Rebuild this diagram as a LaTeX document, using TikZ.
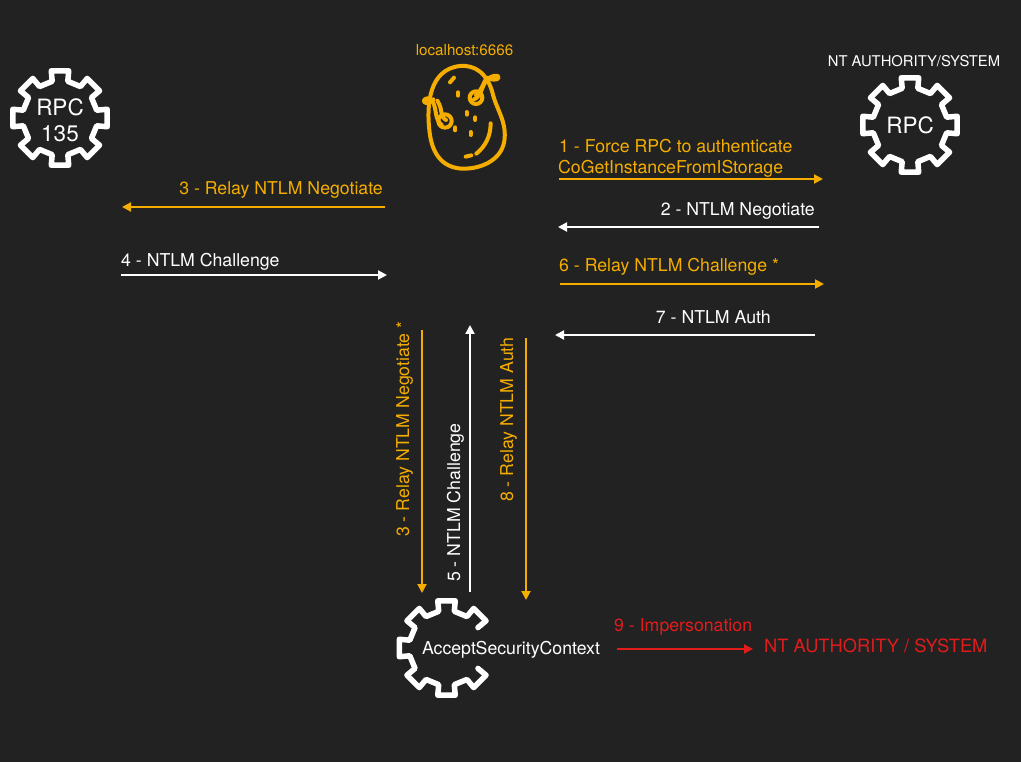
\documentclass[tikz,border=0pt]{standalone}
\usepackage{fontspec}
\setmainfont{TeX Gyre Heros}
\usetikzlibrary{arrows.meta}
\definecolor{bgc}{HTML}{222222}
\definecolor{orc}{HTML}{F5AE00}
\definecolor{rdc}{HTML}{E21B1B}
\tikzset{
  x=1pt,y=-1pt,
  lab/.style={inner sep=0pt,font=\fontsize{17.7}{20}\selectfont},
  olab/.style={lab,text=orc},
  wlab/.style={lab,text=white},
  rlab/.style={lab,text=rdc},
  biglab/.style={font=\fontsize{22.5}{26}\selectfont},
  toplab/.style={font=\fontsize{14.8}{17}\selectfont},
  flow/.style={line width=2pt,-{Triangle[length=9pt,width=9pt]}},
  oflow/.style={flow,draw=orc},
  wflow/.style={flow,draw=white},
  rflow/.style={flow,draw=rdc},
  gearline/.style={draw=white,line width=5.5pt,line join=round,line cap=round},
  pot/.style={draw=orc,line width=4pt,line cap=round,line join=round},
}
\newcommand{\geartooth}[1]{-- +(#1-12:37.5pt) -- +(#1-10.5:48pt) -- +(#1+10.5:48pt) -- +(#1+12:37.5pt)}
\begin{document}
\begin{tikzpicture}
\useasboundingbox[fill=bgc] (0,0) rectangle (1021,762);
% gears
\draw[gearline] (60,118) +(-12:37.5pt) -- +(-10.5:48pt) -- +(10.5:48pt) -- +(12:37.5pt)
  \geartooth{45}\geartooth{90}\geartooth{135}\geartooth{180}\geartooth{225}\geartooth{270}\geartooth{315} -- cycle;
\draw[gearline] (910,125) +(-12:37.5pt) -- +(-10.5:48pt) -- +(10.5:48pt) -- +(12:37.5pt)
  \geartooth{45}\geartooth{90}\geartooth{135}\geartooth{180}\geartooth{225}\geartooth{270}\geartooth{315} -- cycle;
\draw[gearline] (446.5,648) +(33:37.5pt) -- +(34.5:48pt) -- +(55.5:48pt) -- +(57:37.5pt)
  \geartooth{90}\geartooth{135}\geartooth{180}\geartooth{225}\geartooth{270}
  -- +(303:37.5pt) -- +(304.5:48pt) -- +(325.5:48pt) -- +(327:37.5pt);
% gear labels
\node[wlab,biglab] (rpcA) at (60,107) {RPC};
\node[wlab,biglab] (rpcB) at (60,133.5) {135};
\node[wlab,biglab] (rpcC) at (910,125.5) {RPC};
\node[wlab,toplab] (sysT) at (914,61.5) {NT AUTHORITY/SYSTEM};
\node[olab,toplab,font=\fontsize{15.2}{17}\selectfont] (lh) at (464.5,50) {localhost:6666};
\node[wlab,anchor=base] (asc) at (511,654) {AcceptSecurityContext};
% potato
\begin{scope}[shift={(400,30)},x=0.3333pt,y=-0.3333pt]
\draw[pot] (180,108) .. controls (225,104) and (262,130) .. (278,190)
  .. controls (290,240) and (318,270) .. (314,325)
  .. controls (310,385) and (250,418) .. (185,416)
  .. controls (125,412) and (95,370) .. (88,300)
  .. controls (80,230) and (85,118) .. (180,108) -- cycle;
\draw[pot] (150,157) -- (162,143);
\draw[pot] (174,187) -- (174,197);
\draw[pot] (200,246) -- (200,254);
\draw[pot] (226,262) -- (226,270);
\draw[pot] (166,292) -- (166,301);
\draw[pot] (212,306) -- (212,315);
\draw[pot] (272,280) .. controls (272,320) and (255,350) .. (229,371);
\draw[pot] (197,380) -- (214,376);
\draw[pot] (228,203) circle[radius=19];
\draw[pot] (222,208) .. controls (245,200) and (245,165) .. (262,148)
  .. controls (272,138) and (296,132) .. (296,142) .. controls (296,152) and (272,150) .. (260,143)
  .. controls (248,165) and (245,180) .. (228,195);
\draw[pot] (135,273) circle[radius=20];
\draw[pot] (112,212) .. controls (130,240) and (118,258) .. (138,270);
\draw[pot] (98,215) .. controls (112,240) and (102,265) .. (125,285);
\draw[pot] (98,212) .. controls (90,200) and (68,205) .. (72,215) .. controls (76,222) and (92,220) .. (100,208);
\end{scope}
% coordinates
\coordinate (a1) at (559,179); \coordinate (b1) at (823,179);
\coordinate (a2) at (819,227); \coordinate (b2) at (558,227);
\coordinate (a3) at (385,207); \coordinate (b3) at (122,207);
\coordinate (a4) at (121,275); \coordinate (b4) at (387,275);
\coordinate (a6) at (560,284); \coordinate (b6) at (824,284);
\coordinate (a7) at (815,335); \coordinate (b7) at (555,335);
\coordinate (av3) at (422,330); \coordinate (bv3) at (422,593);
\coordinate (av5) at (470,592); \coordinate (bv5) at (470,325);
\coordinate (av8) at (526,338); \coordinate (bv8) at (526,600);
\coordinate (a9) at (617,649); \coordinate (b9) at (753,649);
\draw[oflow] (a1) -- (b1);
\draw[wflow] (a2) -- (b2);
\draw[oflow] (a3) -- (b3);
\draw[wflow] (a4) -- (b4);
\draw[oflow] (a6) -- (b6);
\draw[wflow] (a7) -- (b7);
\draw[oflow] (av3) -- (bv3);
\draw[wflow] (av5) -- (bv5);
\draw[oflow] (av8) -- (bv8);
\draw[rflow] (a9) -- (b9);
% labels
\node[olab,anchor=base west] (t1a) at (559,152.5) {1 - Force RPC to authenticate};
\node[olab,anchor=base west] (t1b) at (558,174) {CoGetInstanceFromIStorage};
\node[wlab,anchor=base east] (t2) at (815,215.5) {2 - NTLM Negotiate};
\node[olab,anchor=base east] (t3) at (383,194.5) {3 - Relay NTLM Negotiate};
\node[wlab,anchor=base west] (t4) at (121,266.5) {4 - NTLM Challenge};
\node[olab,anchor=base west] (t6) at (559,271.5) {6 - Relay NTLM Challenge *};
\node[wlab,anchor=base east] (t7) at (771,323.5) {7 - NTLM Auth};
\node[olab,rotate=90,anchor=base west] (tv3) at (409,537) {3 - Relay NTLM Negotiate *};
\node[wlab,rotate=90,anchor=base west] (tv5) at (460,582) {5 - NTLM Challenge};
\node[olab,rotate=90,anchor=base west] (tv8) at (513,502) {8 - Relay NTLM Auth};
\node[rlab,anchor=base west] (t9) at (614,631.5) {9 - Impersonation};
\node[rlab,anchor=base west,font=\fontsize{18.3}{22}\selectfont] (ts) at (764,652) {NT AUTHORITY / SYSTEM};
\end{tikzpicture}
\end{document}
